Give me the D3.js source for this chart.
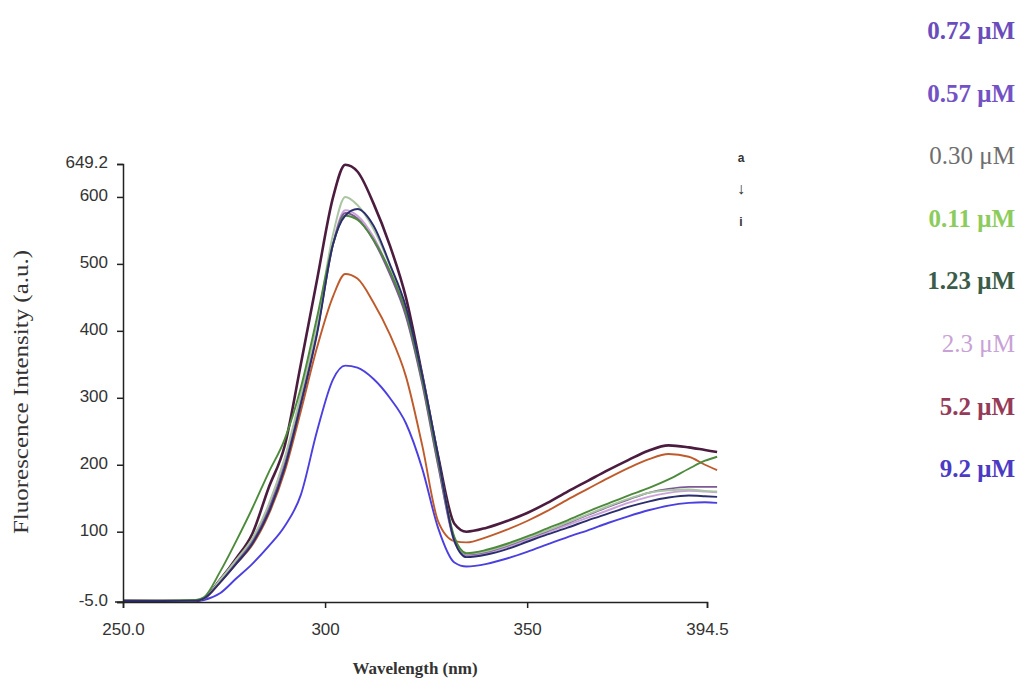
<!DOCTYPE html>
<html>
<head>
<meta charset="utf-8">
<script src="https://cdn.jsdelivr.net/npm/d3@7"></script>
<style>
  body { margin: 0; background: #fff; }
  .axis path, .axis line { stroke: #222; stroke-width: 1.5; }
  .axis text { font-family: "Liberation Sans", Arial, sans-serif; font-size: 17px; fill: #333; }
</style>
</head>
<body>
<script>
// emission spectra (nm -> a.u.)
var wavelengths = [250, 260, 268, 270, 274, 278, 282, 286, 290, 294, 298, 302, 305, 308, 312, 316, 320, 324, 328, 332, 335, 340, 345, 350, 355, 360, 365, 370, 375, 380, 385, 390, 394, 397];

var maroon   = [-3, -3.5, -3, 0, 28, 60, 97, 165, 228, 350, 476, 600, 648, 638, 590, 528, 450, 335, 212, 112, 100, 106, 116, 128, 143, 160, 176, 192, 207, 221, 229, 226, 222, 219];
var sage     = [-3, -3, -2.5, 0, 28, 58, 90, 140, 210, 305, 410, 545, 600, 588, 552, 498, 432, 333, 208, 90, 67, 71, 80, 91, 102, 114, 126, 138, 149, 158, 162, 163, 161, 160];
var navy     = [-3.5, -3.5, -3, 0, 24, 52, 82, 128, 195, 290, 395, 530, 572, 582, 557, 500, 436, 335, 212, 86, 62, 66, 74, 85, 96, 106, 117, 127, 137, 145, 151, 154, 153, 152];
var green    = [-3, -3, -2, 2, 40, 86, 135, 188, 238, 315, 420, 530, 572, 566, 536, 490, 428, 328, 205, 92, 68, 73, 82, 93, 105, 117, 130, 142, 154, 165, 178, 194, 206, 212];
var lavender = [-3, -3, -2.5, 0, 27, 57, 88, 138, 208, 298, 400, 532, 580, 572, 540, 488, 425, 325, 200, 85, 64, 68, 77, 88, 99, 110, 121, 132, 143, 152, 158, 161, 160, 159];
var purple   = [-3, -3, -2.5, 0, 26, 55, 86, 133, 200, 295, 398, 530, 576, 568, 535, 485, 422, 322, 198, 88, 66, 70, 79, 90, 101, 113, 125, 137, 148, 158, 164, 167, 167, 167];
var orange   = [-3, -3, -2.5, 0, 24, 52, 80, 125, 190, 280, 375, 452, 485, 478, 442, 395, 332, 230, 115, 86, 84, 92, 103, 116, 131, 148, 164, 180, 195, 208, 216, 212, 200, 192];
var blue     = [-4, -4, -3.5, -2, 8, 30, 52, 78, 108, 155, 250, 328, 348, 345, 328, 300, 262, 195, 105, 54, 48, 52, 60, 70, 81, 92, 102, 113, 123, 132, 139, 143, 144, 143];

// drawing order: first one ends up at the back
var seriesValues = [blue, orange, maroon, lavender, purple, sage, green, navy];
var seriesColors = ["#4b3fe0", "#bf5a2c", "#4b1c3e", "#c9a2da", "#7d5a96", "#aac5a2", "#4d8a3c", "#2b2d6e"];
var seriesWidths = [1.9, 1.9, 2.6, 2, 1.9, 1.9, 1.9, 1.9];

var legendLabels = ["0.72 \u03bcM", "0.57 \u03bcM", "0.30 \u03bcM", "0.11 \u03bcM", "1.23 \u03bcM", "2.3 \u03bcM", "5.2 \u03bcM", "9.2 \u03bcM"];
var legendColors = ["#6a4cbc", "#7252c4", "#6e6e6e", "#8ccc5c", "#3b5c48", "#c8a2d6", "#953a58", "#4a3ac4"];
var legendBold   = [true, true, false, true, true, false, true, true];

var xTicks = [250, 300, 350, 394.5];
var xTickLabels = ["250.0", "300", "350", "394.5"];
var yTicks = [-5, 100, 200, 300, 400, 500, 600, 649.2];
var yTickLabels = ["-5.0", "100", "200", "300", "400", "500", "600", "649.2"];

var annotation = ["a", "\u2193", "i"];

var width = 1028,
  height = 689;

var svg = d3.select("body")
  .append("svg")
  .attr("width", width)
  .attr("height", height);

var x = d3.scaleLinear()
  .domain([250, 394.5])
  .range([123, 707]);

var y = d3.scaleLinear()
  .domain([-5, 649.2])
  .range([602, 164]);

var line = d3.line()
  .x(function (d, i) { return x(wavelengths[i]); })
  .y(function (d) { return y(d); })
  .curve(d3.curveMonotoneX);

// spectra
svg.append("g")
  .attr("class", "spectra")
  .selectAll("path")
  .data(seriesValues)
  .enter().append("path")
  .attr("d", line)
  .style("fill", "none")
  .style("stroke", function (d, i) { return seriesColors[i]; })
  .style("stroke-width", function (d, i) { return seriesWidths[i]; })
  .style("stroke-linejoin", "round");

// axes
var xAxis = svg.append("g")
  .attr("class", "axis")
  .attr("transform", "translate(0," + y(-5) + ")")
  .call(d3.axisBottom(x)
    .tickValues(xTicks)
    .tickFormat(function (d, i) { return xTickLabels[i]; })
    .tickSizeOuter(0)
    .tickSize(6)
    .tickPadding(15));

// the baseline sticks out a little left of the y axis
xAxis.append("line")
  .attr("x1", x(250) - 8)
  .attr("x2", x(250))
  .style("stroke", "#222")
  .style("stroke-width", 1.5);

svg.append("g")
  .attr("class", "axis")
  .attr("transform", "translate(" + x(250) + ",0)")
  .call(d3.axisLeft(y)
    .tickValues(yTicks)
    .tickFormat(function (d, i) { return yTickLabels[i]; })
    .tickSizeOuter(0)
    .tickSize(6)
    .tickPadding(9))
  .selectAll("text")
  .attr("dy", "0.2em");

// axis titles
svg.append("text")
  .attr("x", 415)
  .attr("y", 674)
  .attr("text-anchor", "middle")
  .style("font-family", "'Liberation Serif', 'Times New Roman', serif")
  .style("font-weight", "bold")
  .style("font-size", "17px")
  .style("fill", "#333")
  .text("Wavelength (nm)");

svg.append("text")
  .attr("transform", "translate(28,392) rotate(-90)")
  .attr("text-anchor", "middle")
  .attr("textLength", 284)
  .attr("lengthAdjust", "spacingAndGlyphs")
  .style("font-family", "'Liberation Serif', 'Times New Roman', serif")
  .style("font-size", "20px")
  .style("fill", "#333")
  .text("Fluorescence Intensity (a.u.)");

// a -> i marker
svg.append("g")
  .selectAll("text")
  .data(annotation)
  .enter().append("text")
  .attr("x", 741)
  .attr("y", function (d, i) { return 162 + i * 32; })
  .attr("text-anchor", "middle")
  .style("font-family", "'Liberation Sans', Arial, sans-serif")
  .style("font-size", function (d, i) { return i == 1 ? "16px" : "12px"; })
  .style("font-weight", "bold")
  .style("fill", "#333")
  .text(function (d) { return d; });

// concentration labels
svg.append("g")
  .attr("class", "legend")
  .selectAll("text")
  .data(legendLabels)
  .enter().append("text")
  .attr("x", 1015)
  .attr("y", function (d, i) { return 39 + i * 62.6; })
  .attr("text-anchor", "end")
  .style("font-family", "'Liberation Serif', 'Times New Roman', serif")
  .style("font-size", "25px")
  .style("font-weight", function (d, i) { return legendBold[i] ? "bold" : "normal"; })
  .style("fill", function (d, i) { return legendColors[i]; })
  .text(function (d) { return d; });
</script>
</body>
</html>
